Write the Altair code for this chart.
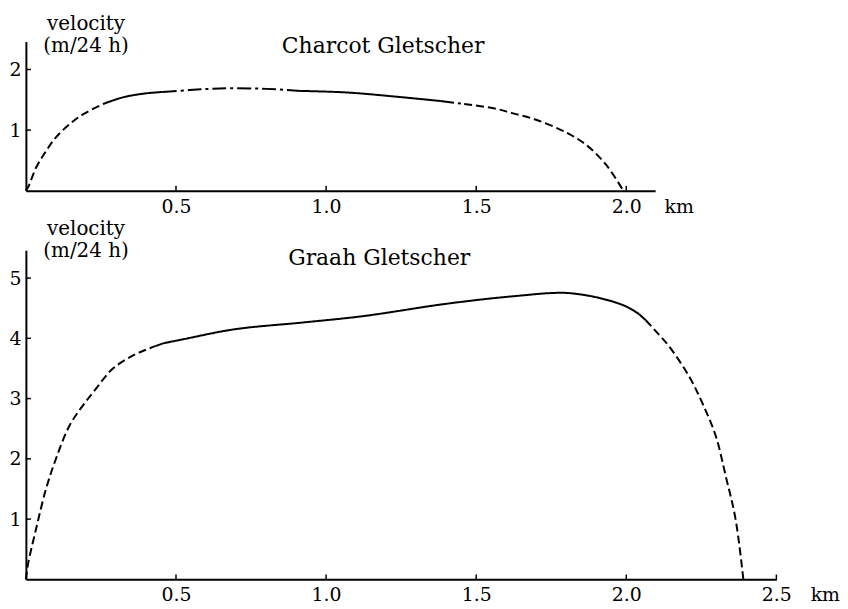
import altair as alt
import pandas as pd

FONT = "DejaVu Serif"

# ---- Charcot Gletscher (top panel) ----
charcot_km = [0, 0.0076, 0.035, 0.068, 0.10, 0.146, 0.19, 0.257, 0.323, 0.39, 0.456,
              0.545, 0.61, 0.683, 0.80, 0.916, 1.071, 1.236, 1.38, 1.46, 1.558, 1.62,
              1.70, 1.80, 1.868, 1.934, 1.99]
charcot_v = [0, 0.06, 0.39, 0.66, 0.88, 1.10, 1.26, 1.43, 1.54, 1.60, 1.63,
             1.66, 1.68, 1.69, 1.68, 1.646, 1.62, 1.55, 1.48, 1.43, 1.36, 1.28,
             1.17, 0.96, 0.75, 0.42, 0.0]
charcot_breaks = [0, 0.257, 0.456, 0.916, 1.38, 1.46, 1.99]
charcot_styles = ["dashed", "solid", "dashdot", "solid", "dashdot", "dashed"]
charcot_xticks = [0.5, 1.0, 1.5, 2.0]
charcot_yticks = [1, 2]

# ---- Graah Gletscher (bottom panel) ----
graah_km = [0, 0.0066, 0.034, 0.067, 0.10, 0.145, 0.189, 0.233, 0.288, 0.354, 0.40,
            0.431, 0.46, 0.52, 0.695, 0.917, 1.126, 1.381, 1.546, 1.65, 1.745, 1.81,
            1.91, 1.999, 2.043, 2.065, 2.098, 2.142, 2.209, 2.252, 2.298, 2.331,
            2.364, 2.39]
graah_v = [0, 0.24, 0.84, 1.50, 2.00, 2.55, 2.88, 3.16, 3.49, 3.71, 3.81,
           3.87, 3.92, 3.98, 4.15, 4.26, 4.37, 4.56, 4.66, 4.71, 4.75, 4.75,
           4.67, 4.53, 4.40, 4.30, 4.12, 3.87, 3.37, 2.94, 2.38, 1.72,
           1.00, 0]
graah_breaks = [0, 0.431, 0.46, 2.043, 2.065, 2.39]
graah_styles = ["dashed", "dashdot", "solid", "dashdot", "dashed"]
graah_xticks = [0.5, 1.0, 1.5, 2.0, 2.5]
graah_yticks = [1, 2, 3, 4, 5]

y_title = ["velocity", "(m/24 h)"]


def segments(xs, vs, breaks, styles):
    rows = []
    for i, st in enumerate(styles):
        lo, hi = breaks[i], breaks[i + 1]
        for x, v in zip(xs, vs):
            if lo - 1e-9 <= x <= hi + 1e-9:
                rows.append({"km": x, "v": v, "seg": i, "style": st})
    return pd.DataFrame(rows)


def panel(xs, vs, breaks, styles, xticks, yticks, xmax, ymax, w, h,
          title, tx, ty, ytitle_y, lab_pad, km_x):
    df = segments(xs, vs, breaks, styles)
    xsc = alt.Scale(domain=[0, xmax], nice=False, zero=False)
    ysc = alt.Scale(domain=[0, ymax], nice=False, zero=False)
    xaxis = alt.Axis(values=xticks, format=".1f", ticks=False, grid=False,
                     labelPadding=lab_pad, labelFont=FONT, labelFontSize=19,
                     labelColor="black", labelFlush=False, labelOverlap=False,
                     domainColor="black", domainWidth=2,
                     title="km", titleX=km_x, titleY=lab_pad, titleAlign="left",
                     titleBaseline="top", titleFont=FONT, titleFontSize=19,
                     titleFontWeight="normal", titleColor="black")
    yaxis = alt.Axis(values=yticks, format="d", ticks=False, grid=False,
                     labelPadding=5, labelFont=FONT, labelFontSize=19,
                     labelColor="black", labelFlush=False, labelOverlap=False,
                     domainColor="black", domainWidth=2,
                     title=y_title, titleAngle=0, titleX=60, titleY=ytitle_y,
                     titleAlign="center", titleBaseline="alphabetic",
                     titleLineHeight=22, titleFont=FONT, titleFontSize=20,
                     titleFontWeight="normal", titleColor="black")
    line = alt.Chart(df).mark_line(color="black", strokeWidth=2,
                                   interpolate="catmull-rom").encode(
        x=alt.X("km:Q", scale=xsc, axis=xaxis),
        y=alt.Y("v:Q", scale=ysc, axis=yaxis),
        strokeDash=alt.StrokeDash(
            "style:N",
            scale=alt.Scale(domain=["solid", "dashed", "dashdot"],
                            range=[[1, 0], [8, 4], [14, 4, 3, 4]]),
            legend=None),
        detail="seg:N",
        order=alt.Order("km:Q"),
    )
    xt = alt.Chart(pd.DataFrame({"t": xticks})).mark_rule(
        color="black", strokeWidth=1.5).encode(
        x=alt.X("t:Q", scale=xsc, axis=xaxis),
        y=alt.YDatum(0, scale=ysc, axis=yaxis),
        y2=alt.Y2Datum(0.08),
    )
    yt = alt.Chart(pd.DataFrame({"t": yticks})).mark_rule(
        color="black", strokeWidth=1.5).encode(
        y=alt.Y("t:Q", scale=ysc, axis=yaxis),
        x=alt.XDatum(0, scale=xsc, axis=xaxis),
        x2=alt.X2Datum(0.017),
    )
    ttl = alt.Chart(pd.DataFrame({"name": [title]})).mark_text(
        font=FONT, fontSize=22, color="black", align="center",
        baseline="alphabetic").encode(
        x=alt.XDatum(tx, scale=xsc, axis=xaxis),
        y=alt.YDatum(ty, scale=ysc, axis=yaxis),
        text="name:N",
    )
    return alt.layer(line, xt, yt, ttl).properties(width=w, height=h)


top = panel(charcot_km, charcot_v, charcot_breaks, charcot_styles,
            charcot_xticks, charcot_yticks, 2.096, 2.46, 633, 150,
            "Charcot Gletscher", 1.19, 2.28, -12, 7, 642)
bottom = panel(graah_km, graah_v, graah_breaks, graah_styles,
               graah_xticks, graah_yticks, 2.5, 5.46, 755, 331,
               "Graah Gletscher", 1.177, 5.21, -16, 6, 789)

chart = alt.vconcat(top, bottom, spacing=2).properties(
    padding={"left": 0, "top": 4, "right": 0, "bottom": 0},
    background="white",
).configure_view(stroke=None)

chart.save("out.html", embed_options={"renderer": "svg", "actions": False})
